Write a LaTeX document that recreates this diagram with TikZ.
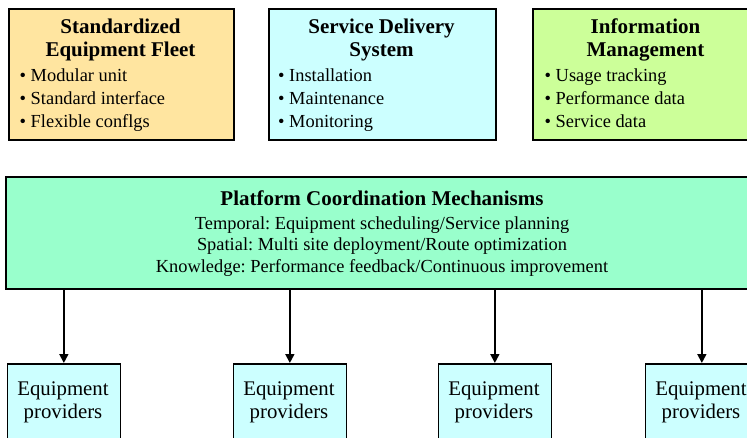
\documentclass[tikz,border=0pt]{standalone}
\usepackage{fontspec}
\setmainfont{Liberation Serif}
\usetikzlibrary{arrows.meta}
\frenchspacing

\definecolor{fleetfill}{RGB}{255,229,160}
\definecolor{servicefill}{RGB}{204,255,255}
\definecolor{infofill}{RGB}{204,255,153}
\definecolor{platformfill}{RGB}{153,255,204}
\definecolor{providerfill}{RGB}{204,255,255}

\begin{document}
\begin{tikzpicture}[x=1pt, y=-1pt,
  panel/.style={draw=black, line width=1.7pt, rectangle, inner sep=0pt, anchor=north west},
  headline/.style={anchor=base, inner sep=0pt, font=\bfseries\fontsize{21}{24}\selectfont},
  itemline/.style={anchor=base west, inner sep=0pt, font=\fontsize{18.4}{22}\selectfont},
  detail/.style={anchor=base, inner sep=0pt, font=\fontsize{18.4}{22}\selectfont},
  provtext/.style={anchor=base, inner sep=0pt, font=\fontsize{20.8}{23}\selectfont},
  feed/.style={-{Triangle[length=9pt, width=9pt]}, line width=1.7pt}
]
\useasboundingbox (0,0) rectangle (747,438);
\clip (0,0) rectangle (747,438);

% ---- top row: three building blocks ----
\node[panel, fill=fleetfill, minimum width=225pt, minimum height=131pt] (fleet) at (8,8) {};
\node[headline] (fleetH1) at (120.5,33.3) {Standardized};
\node[headline] (fleetH2) at (120.5,56.7) {Equipment Fleet};
\node[itemline] (fleetI1) at (19.5,81.7) {•\ Modular unit};
\node[itemline] (fleetI2) at (19.5,104.5) {•\ Standard interface};
\node[itemline] (fleetI3) at (19.5,127.5) {•\ Flexible conflgs};

\node[panel, fill=servicefill, minimum width=227pt, minimum height=131pt] (service) at (268,8) {};
\node[headline] (serviceH1) at (381.5,33.3) {Service Delivery};
\node[headline] (serviceH2) at (381.5,56.7) {System};
\node[itemline] (serviceI1) at (278,81.7) {•\ Installation};
\node[itemline] (serviceI2) at (278,104.5) {•\ Maintenance};
\node[itemline] (serviceI3) at (278,127.5) {•\ Monitoring};

\node[panel, fill=infofill, minimum width=227pt, minimum height=131pt] (info) at (532,8) {};
\node[headline] (infoH1) at (645.5,33.3) {Information};
\node[headline] (infoH2) at (645.5,56.7) {Management};
\node[itemline] (infoI1) at (544.5,81.7) {•\ Usage tracking};
\node[itemline] (infoI2) at (544.5,104.5) {•\ Performance data};
\node[itemline] (infoI3) at (544.5,127.5) {•\ Service data};

% ---- coordination layer ----
\node[panel, fill=platformfill, minimum width=754pt, minimum height=112pt] (platform) at (5,176) {};
\node[headline] (platH) at (382,206) {Platform Coordination Mechanisms};
\node[detail] (platD1) at (382,229.3) {Temporal: Equipment scheduling/Service planning};
\node[detail] (platD2) at (382,251) {Spatial: Multi site deployment/Route optimization};
\node[detail] (platD3) at (382,272.7) {Knowledge: Performance feedback/Continuous improvement};

% ---- providers ----
\foreach \i/\cx in {1/63, 2/289, 3/494, 4/701} {
  \node[panel, fill=providerfill, minimum width=113pt, minimum height=84pt] (prov\i) at (\cx-56.5,363) {};
  \node[provtext] (provA\i) at (\cx,395) {Equipment};
  \node[provtext] (provB\i) at (\cx,418) {providers};
  \draw[feed] (platform.south -| prov\i.north) -- (prov\i.north);
}
\end{tikzpicture}
\end{document}
